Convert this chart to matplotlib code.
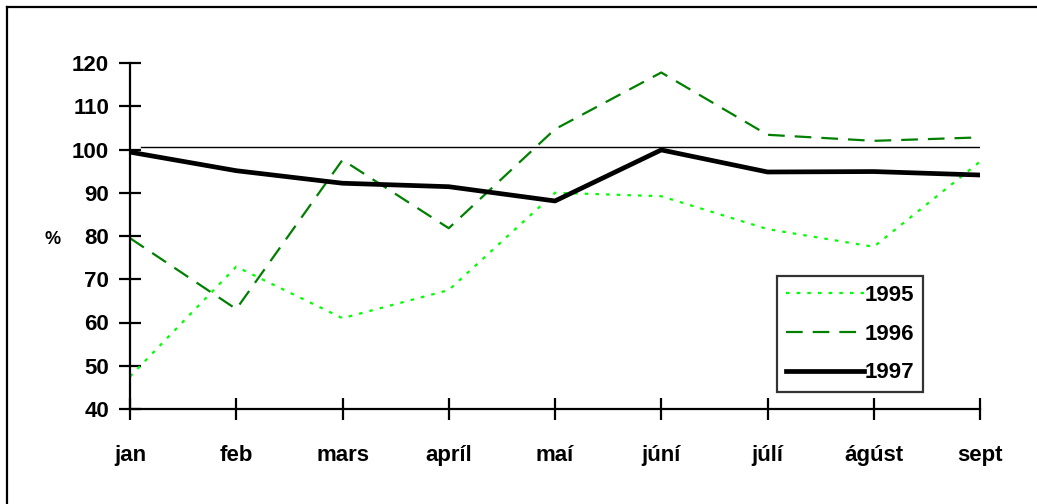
import matplotlib
matplotlib.use("Agg")
import matplotlib.pyplot as plt
from matplotlib.lines import Line2D

plt.rcParams["font.family"] = ["Liberation Sans", "DejaVu Sans"]
plt.rcParams["font.weight"] = "bold"

months = ["jan", "feb", "mars", "apríl", "maí", "júní", "júlí", "ágúst", "sept"]
y1995 = [47.5, 72.9, 61.0, 67.5, 90.0, 89.2, 81.6, 77.5, 97.2]
y1996 = [79.5, 63.1, 97.6, 81.8, 104.7, 117.8, 103.4, 102.0, 102.8]
y1997 = [99.4, 95.1, 92.2, 91.4, 88.1, 99.9, 94.8, 94.9, 94.1]
ref_level = 100.6
yticks = [40, 50, 60, 70, 80, 90, 100, 110, 120]

W, H = 1037, 504
fig = plt.figure(figsize=(W / 100, H / 100), dpi=100)
ax = fig.add_axes([130 / W, 1 - 409 / H, 850 / W, 346 / H])

x = list(range(len(months)))
ax.plot(x, y1995, color="#00ff00", lw=1.6, ls=(0, (1.6, 3.2)), label="1995")
ax.plot(x, y1996, color="#008000", lw=1.6, ls=(0, (7.5, 4.5)), label="1996")
ax.plot(x, y1997, color="black", lw=3.4, label="1997")
ax.plot([0.1, 8.03], [ref_level, ref_level], color="black", lw=1.0)

ax.set_xlim(0, 8)
ax.set_ylim(40, 120)
ax.set_xticks(x)
ax.set_xticklabels(months)
ax.set_yticks(yticks)
ax.tick_params(axis="both", direction="inout", length=16, width=1.6,
               labelsize=16, pad=7)
ax.tick_params(axis="x", pad=18)
for s in ["top", "right"]:
    ax.spines[s].set_visible(False)
for s in ["left", "bottom"]:
    ax.spines[s].set_linewidth(1.6)
ax.patch.set_alpha(0)

fig.text(53 / W, 1 - 240 / H, "%", ha="center", va="center", fontsize=13)

leg = ax.legend(loc="upper left", bbox_to_anchor=((777 - 130) / 850, (409 - 276) / 346),
                fontsize=16, handlelength=3.5, handletextpad=0.05,
                frameon=True, fancybox=False, edgecolor="black",
                borderpad=0.4, labelspacing=0.8, borderaxespad=0)
leg.get_frame().set_linewidth(1.6)

# outer frame (only top and left are inside the image)
fig.add_artist(Line2D([7 / W, 1.0], [1 - 7 / H, 1 - 7 / H], color="black", lw=1.6))
fig.add_artist(Line2D([7 / W, 7 / W], [0, 1 - 7 / H], color="black", lw=1.6))

fig.savefig("out.png", dpi=100)
